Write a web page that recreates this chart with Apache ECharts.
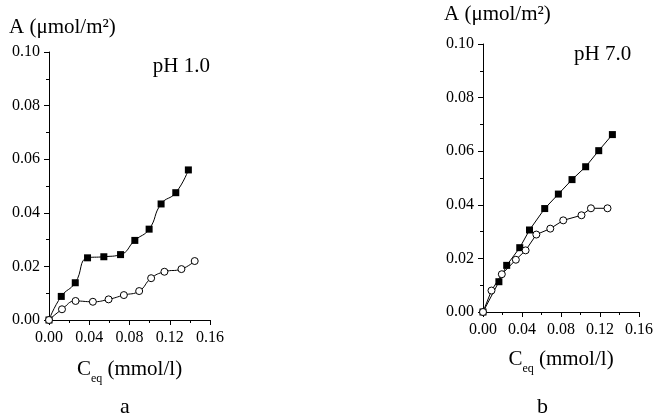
<!DOCTYPE html>
<html>
<head>
<meta charset="utf-8">
<script src="https://cdn.jsdelivr.net/npm/echarts@6/dist/echarts.min.js"></script>
<style>
  html, body { margin: 0; padding: 0; background: #fff; }
  #chart { width: 656px; height: 418px; }
</style>
</head>
<body>
<div id="chart"></div>
<script>
// panel a, pH 1.0
const phOneSquareX = [0, 0.0122, 0.0261, 0.0383, 0.0545, 0.0711, 0.0853, 0.0995, 0.1114, 0.1260, 0.1385];
const phOneSquareY = [0, 0.0088, 0.0139, 0.0232, 0.0236, 0.0244, 0.0297, 0.0339, 0.0433, 0.0475, 0.0560];
const phOneCircleX = [0, 0.0129, 0.0264, 0.0436, 0.0592, 0.0744, 0.0896, 0.1015, 0.1147, 0.1316, 0.1448];
const phOneCircleY = [0, 0.0040, 0.0071, 0.0068, 0.0077, 0.0093, 0.0108, 0.0156, 0.0180, 0.0190, 0.0220];

// panel b, pH 7.0
const phSevenSquareX = [0, 0.0163, 0.0243, 0.0377, 0.0477, 0.0633, 0.0773, 0.0913, 0.1053, 0.1187, 0.1327];
const phSevenSquareY = [0, 0.0113, 0.0174, 0.0240, 0.0306, 0.0386, 0.0440, 0.0494, 0.0542, 0.0602, 0.0662];
const phSevenCircleX = [0, 0.0087, 0.0193, 0.0337, 0.0437, 0.0547, 0.0690, 0.0823, 0.1010, 0.1107, 0.1277];
const phSevenCircleY = [0, 0.0080, 0.0141, 0.0195, 0.0230, 0.0289, 0.0311, 0.0342, 0.0361, 0.0387, 0.0387];

const xMax = 0.16, xStep = 0.04;
const yMax = 0.10, yStep = 0.02;
const yName = 'A (μmol/m²)';
const xName = '{c|C}{s|eq} (mmol/l)';

const font = 'Liberation Serif';

function zip(xs, ys) {
  return xs.map((x, i) => [x, ys[i]]);
}

function xAxis(idx, gap) {
  return {
    type: 'value', gridIndex: idx, min: 0, max: xMax, interval: xStep,
    name: xName, nameLocation: 'middle', nameGap: gap,
    nameTextStyle: {
      fontFamily: font, fontSize: 21, color: '#000', lineHeight: 32,
      rich: {
        c: { fontFamily: font, fontSize: 21, color: '#000', lineHeight: 32 },
        s: { fontFamily: font, fontSize: 12, color: '#000', lineHeight: 10, verticalAlign: 'bottom' }
      }
    },
    axisLine: { lineStyle: { color: '#000', width: 1 } },
    axisTick: { length: 5, lineStyle: { color: '#000' } },
    minorTick: { show: true, splitNumber: 2, length: 3, lineStyle: { color: '#000' } },
    axisLabel: { fontFamily: font, fontSize: 16, color: '#000', margin: 10,
      formatter: v => v.toFixed(2) },
    splitLine: { show: false }
  };
}

function yAxis(idx) {
  return {
    type: 'value', gridIndex: idx, min: 0, max: yMax, interval: yStep,
    axisLine: { show: true, lineStyle: { color: '#000', width: 1 } },
    axisTick: { show: true, length: 5, lineStyle: { color: '#000' } },
    minorTick: { show: true, splitNumber: 2, length: 3, lineStyle: { color: '#000' } },
    axisLabel: { fontFamily: font, fontSize: 16, color: '#000', margin: 9,
      formatter: v => v.toFixed(2) },
    splitLine: { show: false }
  };
}

function squares(idx, data, smooth) {
  return {
    type: 'line', xAxisIndex: idx, yAxisIndex: idx, data: data,
    smooth: smooth, symbol: 'rect', symbolSize: 7,
    lineStyle: { color: '#000', width: 1 },
    itemStyle: { color: '#000', borderColor: '#000', borderWidth: 0 },
    z: 2
  };
}

function circles(idx, data, smooth) {
  return {
    type: 'line', xAxisIndex: idx, yAxisIndex: idx, data: data,
    smooth: smooth, symbol: 'circle', symbolSize: 7,
    lineStyle: { color: '#000', width: 1 },
    itemStyle: { color: '#fff', borderColor: '#000', borderWidth: 1 },
    z: 3
  };
}

const titleStyle = { fontFamily: font, fontSize: 21, fontWeight: 'normal', color: '#000' };
const letterStyle = { fontFamily: font, fontSize: 22, fontWeight: 'normal', color: '#000' };

const option = {
  animation: false,
  backgroundColor: '#fff',
  title: [
    { text: yName, left: 9, top: 17, padding: 0, textStyle: titleStyle },
    { text: yName, left: 444, top: 4, padding: 0, textStyle: titleStyle },
    { text: 'pH 1.0', right: 446, top: 56, padding: 0, textStyle: titleStyle },
    { text: 'pH 7.0', left: 574, top: 44, padding: 0, textStyle: titleStyle },
    { text: 'a', left: 120, top: 396, padding: 0, textStyle: letterStyle },
    { text: 'b', left: 537, top: 396, padding: 0, textStyle: letterStyle }
  ],
  grid: [
    { left: 49, top: 52, width: 161, height: 268 },
    { left: 483, top: 44, width: 160, height: 268 }
  ],
  xAxis: [xAxis(0, 33), xAxis(1, 31)],
  yAxis: [yAxis(0), yAxis(1)],
  series: [
    squares(0, zip(phOneSquareX, phOneSquareY), 0.5),
    circles(0, zip(phOneCircleX, phOneCircleY), 0.5),
    squares(1, zip(phSevenSquareX, phSevenSquareY), false),
    circles(1, zip(phSevenCircleX, phSevenCircleY), false)
  ]
};

const myChart = echarts.init(document.getElementById('chart'), null, { renderer: 'canvas' });
myChart.setOption(option);
</script>
</body>
</html>
